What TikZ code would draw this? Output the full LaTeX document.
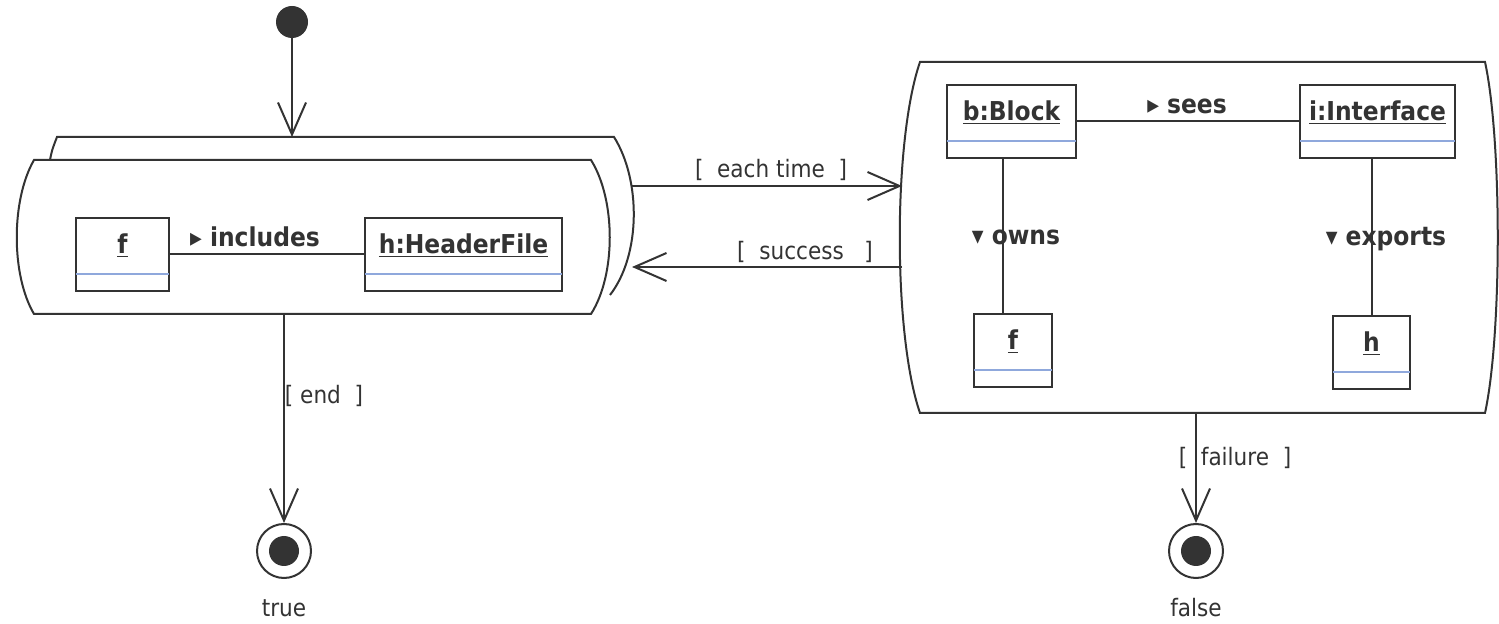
\documentclass[tikz,border=0pt]{standalone}
\usepackage{fontspec}
\setmainfont{DejaVu Sans Condensed}
\usetikzlibrary{arrows.meta,calc,fit}
\definecolor{sepblue}{HTML}{8FA8DC}
\definecolor{ink}{HTML}{333333}
\begin{document}
\begin{tikzpicture}[x=0.5pt,y=-0.5pt,
  ln/.style={draw=ink, line width=1pt},
  act/.style={draw=ink, line width=1pt},
  obj/.style={draw=ink, line width=1.2pt, rectangle, inner sep=0pt},
  sepline/.style={draw=sepblue, line width=1.1pt},
  oname/.style={font=\bfseries\fontsize{13}{15}\selectfont, inner sep=0pt, text=ink},
  assoc/.style={font=\bfseries\fontsize{13}{15}\selectfont, inner sep=0pt, text=ink},
  guard/.style={font=\fontsize{12}{14}\selectfont, inner sep=0pt, text=ink},
  flow/.style={ln, -{Straight Barb[length=16pt,width=14pt,line width=1pt]}},
  startnode/.style={circle, fill=ink, minimum size=16pt, inner sep=0pt},
  endnode/.style={circle, draw=ink, line width=1pt, minimum size=27pt, inner sep=0pt,
    path picture={\fill[ink] (path picture bounding box.center) circle (7.5pt);}},
]
\useasboundingbox (0,0) rectangle (1499,624);

% ---- left activity (with stacked copy behind it)
\draw[act] (50,160) .. controls (52,150) .. (57,137) -- (614,137)
  .. controls (641,180) and (641,255) .. (610,295);
\draw[act,fill=white] (34,160) -- (591,160) .. controls (616,200) and (616,275) .. (591,314)
  -- (34,314) .. controls (11,275) and (11,200) .. (34,160) -- cycle;

% ---- right activity
\draw[act] (920,62) -- (1485,62) .. controls (1502,140) and (1502,335) .. (1485,413)
  -- (920,413) .. controls (893,335) and (893,140) .. (920,62) -- cycle;

% ---- connector end points on the activity outlines
\coordinate (a1top) at (292,137);
\coordinate (a1out) at (632,186);
\coordinate (a1in)  at (632,267);
\coordinate (a1bot) at (284,314);
\coordinate (a2in)  at (902,186);
\coordinate (a2out) at (902,267);
\coordinate (a2bot) at (1196,413);

% ---- objects
\newcommand{\objbox}[6]{%
  \node[obj, fit={(#2,#3) (#4,#5)}] (#1) {};
  \draw[sepline] ([yshift=9pt,xshift=0.6pt]#1.south west) -- ([yshift=9pt,xshift=-0.6pt]#1.south east);
  \node[oname] at ($(#1.north)!0.38!(#1.south)$) {\underline{#6}};
}
\objbox{f1}{76}{218}{169}{291}{f}
\objbox{hf}{365}{218}{562}{291}{h:HeaderFile}
\objbox{blk}{947}{85}{1076}{158}{b:Block}
\objbox{itf}{1300}{85}{1455}{158}{i:Interface}
\objbox{f2}{974}{314}{1052}{387}{f}
\objbox{h2}{1333}{316}{1410}{389}{h}

% ---- links between objects
\draw[ln] (f1) -- (hf);
\draw[ln] (blk) -- (itf);
\draw[ln] ([xshift=-4.5pt]blk.south) -- ([xshift=-4.5pt]blk.south |- f2.north);
\draw[ln] (itf.south -| h2.north) -- (h2.north);

\node[assoc] at (255,237) {▸ includes};
\node[assoc] at (1187,106) {▸ sees};
\node[assoc] at (1016,237) {▾ owns};
\node[assoc] at (1386,239) {▾ exports};

% ---- initial and final nodes
\node[startnode] (init) at (292,22) {};
\node[endnode] (end1) at (284,551) {};
\node[endnode] (end2) at (1196,551) {};
\node[guard] at (284,608) {true};
\node[guard] at (1196,608) {false};

% ---- control flow
\draw[flow] (init) -- (a1top);
\draw[flow] (a1out) -- (a2in);
\draw[flow] (a2out) -- (a1in);
\draw[flow] (a1bot) -- (end1);
\draw[flow] (a2bot) -- (end2);

\node[guard] at (771,170) {[\ \ each time\ \ ]};
\node[guard] at (805,252) {[\ \ success\ \ \ ]};
\node[guard] at (324,396) {[\ end\ \ ]};
\node[guard] at (1235,458) {[\ \ failure\ \ ]};
\end{tikzpicture}
\end{document}
